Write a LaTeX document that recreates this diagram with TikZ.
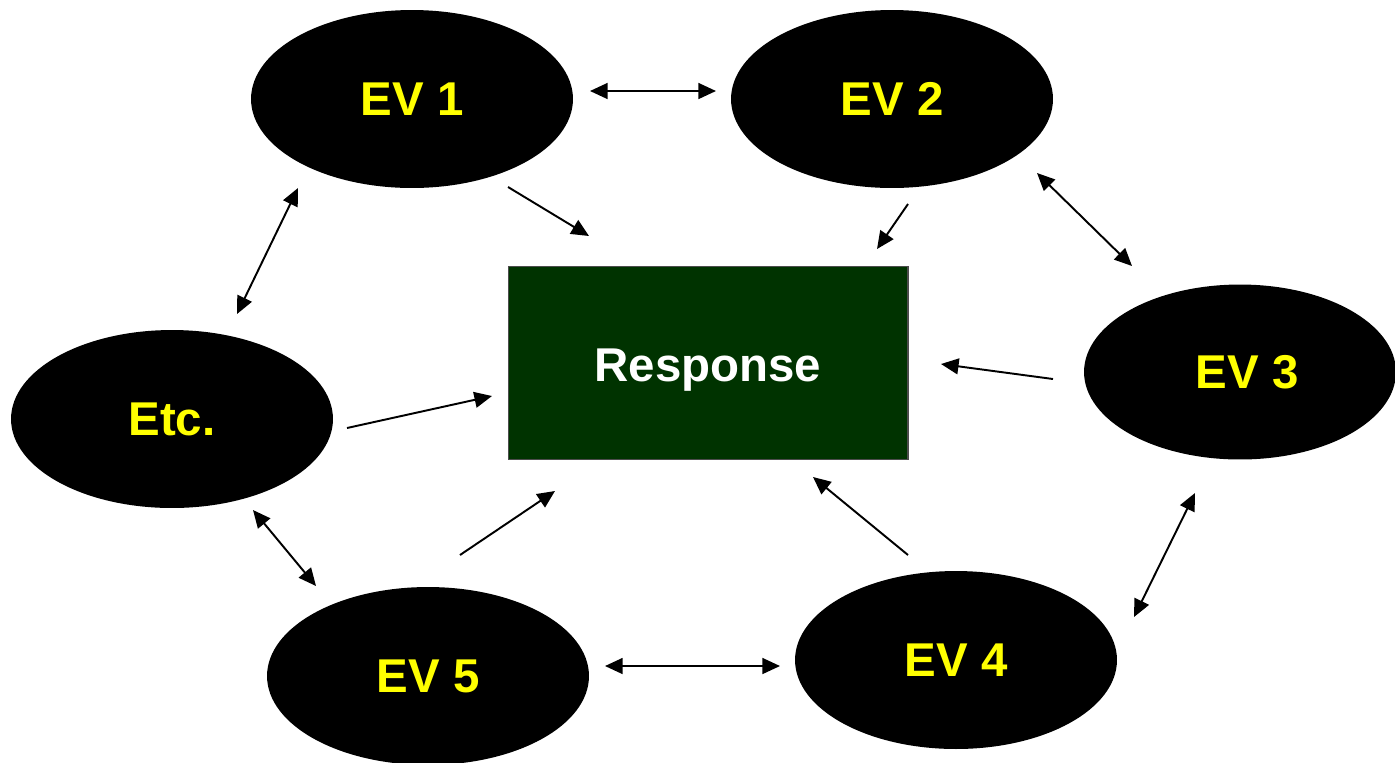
\documentclass[tikz,border=0pt]{standalone}
\usepackage{fontspec}
\setmainfont{Liberation Sans}
\usetikzlibrary{shapes.geometric,arrows.meta}
\definecolor{evyellow}{RGB}{255,255,0}
\definecolor{respgreen}{RGB}{0,51,0}
\begin{document}
\begin{tikzpicture}[x=0.02cm,y=-0.02cm,
  ev/.style={ellipse, fill=black, inner sep=0pt, minimum width=6.44cm, minimum height=3.56cm,
    text=evyellow, font=\fontsize{27}{30}\selectfont\bfseries},
  resp/.style={rectangle, fill=respgreen, draw=black!70, line width=0.6pt, inner sep=0pt,
    minimum width=8cm, minimum height=3.86cm, text=white, font=\fontsize{27}{30}\selectfont\bfseries},
  one/.style={line width=1.1pt, -{Triangle[length=10pt,width=9pt]}},
  two/.style={line width=1.1pt, {Triangle[length=10pt,width=9pt]}-{Triangle[length=10pt,width=9pt]}}]
\useasboundingbox (0,0) rectangle (1395,762);
\node[ev] (ev1) at (412,99) {EV 1};
\node[ev] (ev2) at (892,99) {EV 2};
\node[ev, minimum width=6.24cm, minimum height=3.5cm] (ev3) at (1240,372) {\hspace{8pt}EV 3};
\node[ev] (ev4) at (956,660) {EV 4};
\node[ev] (ev5) at (428,676) {EV 5};
\node[ev] (etc) at (172,419) {Etc.};
\node[resp] (resp) at (708,363) {\raisebox{-10.7pt}[0pt][0pt]{Response}};
% arrow end points
\coordinate (a1) at (590,91);   \coordinate (b1) at (716,91);
\coordinate (a2) at (508,187);  \coordinate (b2) at (589,236);
\coordinate (a3) at (908,204);  \coordinate (b3) at (877,249);
\coordinate (a4) at (1037,173); \coordinate (b4) at (1132,266);
\coordinate (a5) at (1053,379); \coordinate (b5) at (941,364);
\coordinate (a6) at (1195,493); \coordinate (b6) at (1134,617);
\coordinate (a7) at (908,555);  \coordinate (b7) at (813,477);
\coordinate (a8) at (780,666);  \coordinate (b8) at (605,666);
\coordinate (a9) at (460,555);  \coordinate (b9) at (555,491);
\coordinate (a10) at (253,510); \coordinate (b10) at (316,586);
\coordinate (a11) at (347,428); \coordinate (b11) at (492,396);
\coordinate (a12) at (237,314); \coordinate (b12) at (298,188);
\draw[two] (a1) -- (b1);
\draw[one] (a2) -- (b2);
\draw[one] (a3) -- (b3);
\draw[two] (a4) -- (b4);
\draw[one] (a5) -- (b5);
\draw[two] (a6) -- (b6);
\draw[one] (a7) -- (b7);
\draw[two] (a8) -- (b8);
\draw[one] (a9) -- (b9);
\draw[two] (a10) -- (b10);
\draw[one] (a11) -- (b11);
\draw[two] (a12) -- (b12);
\end{tikzpicture}
\end{document}
